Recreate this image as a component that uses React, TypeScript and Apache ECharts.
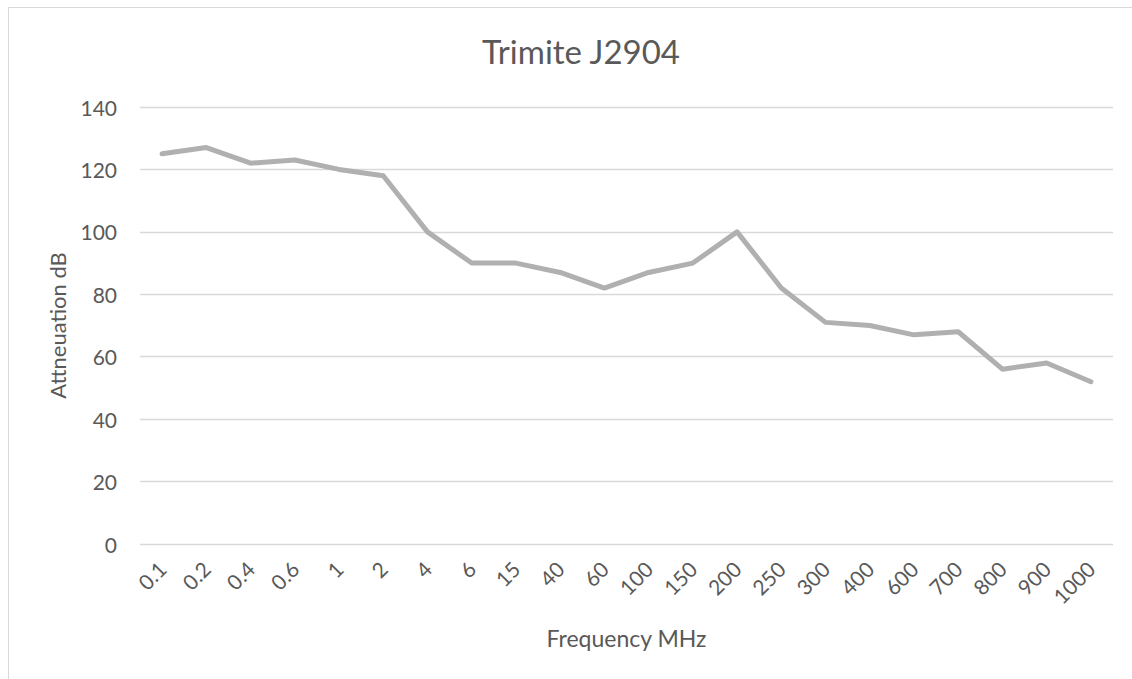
import React, { useEffect, useRef } from "react";
import * as echarts from "echarts";

const categories = ["0.1", "0.2", "0.4", "0.6", "1", "2", "4", "6", "15", "40", "60", "100", "150", "200", "250", "300", "400", "600", "700", "800", "900", "1000"];
const attenuation = [125, 127, 122, 123, 120, 118, 100, 90, 90, 87, 82, 87, 90, 100, 82, 71, 70, 67, 68, 56, 58, 52];
const titleText = "Trimite J2904";
const xName = "Frequency MHz";
const yName = "Attneuation dB";

const FONT = "Lato, 'Noto Sans', sans-serif";
const TXT = "#595959";

export default function App() {
  const ref = useRef<HTMLDivElement>(null);
  useEffect(() => {
    if (!ref.current) return;
    const chart = echarts.init(ref.current, null, { renderer: "svg" });
    chart.setOption({
      animation: false,
      backgroundColor: "#ffffff",
      textStyle: { fontFamily: FONT },
      title: {
        text: titleText,
        left: 576,
        top: 29,
        textAlign: "center",
        textStyle: { fontFamily: FONT, fontSize: 33, fontWeight: "normal", color: TXT },
      },
      graphic: [
        {
          type: "rect",
          shape: { x: 8.5, y: 7.5, width: 1400, height: 1000 },
          style: { fill: "none", stroke: "#d9d9d9", lineWidth: 1 },
          silent: true,
        },
      ],
      grid: { left: 140, right: 19, top: 107, bottom: 135 },
      xAxis: {
        type: "category",
        data: categories,
        boundaryGap: true,
        name: xName,
        nameLocation: "middle",
        nameGap: 82,
        nameTextStyle: { fontFamily: FONT, fontSize: 23, color: TXT },
        axisLine: { show: false },
        axisTick: { show: false },
        axisLabel: { rotate: 45, margin: 21, fontFamily: FONT, fontSize: 21, color: TXT, interval: 0 },
      },
      yAxis: {
        type: "value",
        min: 0,
        max: 140,
        interval: 20,
        name: yName,
        nameLocation: "middle",
        nameGap: 72,
        nameTextStyle: { fontFamily: FONT, fontSize: 22, color: TXT },
        axisLine: { show: false },
        axisTick: { show: false },
        axisLabel: { margin: 23, fontFamily: FONT, fontSize: 21, color: TXT },
        splitLine: { lineStyle: { color: "#d9d9d9", width: 1.3 } },
      },
      series: [
        {
          type: "line",
          data: attenuation,
          symbol: "none",
          lineStyle: { color: "#b0b0b0", width: 5, cap: "round", join: "round" },
        },
      ],
    });
    return () => chart.dispose();
  }, []);
  return <div ref={ref} style={{ position: "fixed", left: 0, top: 0, width: 1132, height: 679 }} />;
}
